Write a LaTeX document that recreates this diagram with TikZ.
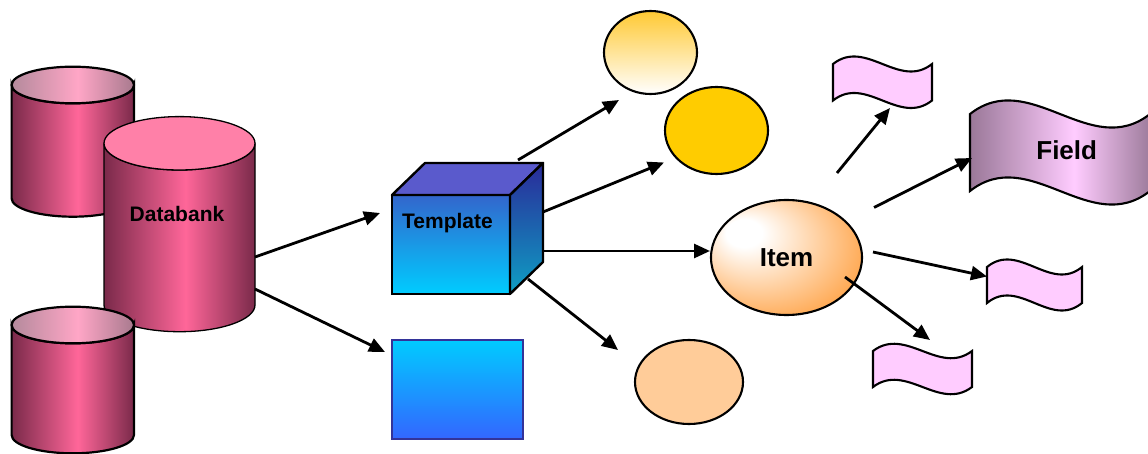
\documentclass[tikz,border=0pt]{standalone}
\usepackage{fontspec}
\setmainfont{Liberation Sans}
\usetikzlibrary{arrows.meta,shapes.geometric,calc}

\definecolor{cylDark}{HTML}{7A2A4A}
\definecolor{cylPink}{HTML}{FF6699}
\definecolor{capEdgeL}{HTML}{B48A9C}
\definecolor{capMid}{HTML}{FFA6C6}
\definecolor{capEdgeR}{HTML}{A87A8E}
\definecolor{bigCap}{HTML}{FF80A8}
\definecolor{cubeFrontTop}{HTML}{3366CC}
\definecolor{cubeFrontBot}{HTML}{00CCFF}
\definecolor{cubeTop}{HTML}{5A5ACC}
\definecolor{cubeSideTop}{HTML}{2A2A99}
\definecolor{cubeSideBot}{HTML}{0E9FC4}
\definecolor{rectTop}{HTML}{00CCFF}
\definecolor{rectBot}{HTML}{3366FF}
\definecolor{rectBorder}{HTML}{333399}
\definecolor{ellGold}{HTML}{FFCC00}
\definecolor{ellGoldLight}{HTML}{FFC933}
\definecolor{ellPeach}{HTML}{FFCC99}
\definecolor{itemOrange}{HTML}{FF9933}
\definecolor{flagPink}{HTML}{FFCCFF}
\definecolor{fieldEdgeL}{HTML}{9A7898}
\definecolor{fieldEdgeR}{HTML}{9E7C9C}

\pgfdeclarehorizontalshading{cylside}{100bp}{color(0bp)=(cylDark); color(25bp)=(cylDark); color(52bp)=(cylPink); color(75bp)=(cylDark); color(100bp)=(cylDark)}
\pgfdeclarehorizontalshading{cylcap}{100bp}{color(0bp)=(capEdgeL); color(25bp)=(capEdgeL); color(52bp)=(capMid); color(75bp)=(capEdgeR); color(100bp)=(capEdgeR)}
\pgfdeclarehorizontalshading{fieldsh}{100bp}{color(0bp)=(fieldEdgeL); color(25bp)=(fieldEdgeL); color(54bp)=(flagPink); color(75bp)=(fieldEdgeR); color(100bp)=(fieldEdgeR)}
\pgfdeclareradialshading{itemsh}{\pgfpoint{-16bp}{12bp}}{color(0bp)=(white); color(6bp)=(white); color(37bp)=(itemOrange); color(50bp)=(itemOrange)}

\newcommand\cylbody[7]{% cx rx ty by ry linewidth capstyle
  \path[draw, line width=#6, shade, shading=cylside]
    ({#1-#2},#3) -- ({#1-#2},#4)
    arc[start angle=180, end angle=0, x radius=#2, y radius=#5]
    -- ({#1+#2},#3)
    arc[start angle=0, end angle=180, x radius=#2, y radius=#5] -- cycle;
  \path[draw, line width=#6, #7] (#1,#3) ellipse [x radius=#2, y radius=#5];
}
\newcommand\wavepath[6]{% style x0 x1 ytop ybot c
  \path[#1] (#2,#4)
    .. controls ({#2+(#3-#2)/3},{#4-#6}) and ({#2+2*(#3-#2)/3},{#4+#6}) .. (#3,#4)
    -- (#3,#5)
    .. controls ({#2+2*(#3-#2)/3},{#5+#6}) and ({#2+(#3-#2)/3},{#5-#6}) .. (#2,#5)
    -- cycle;
}

\tikzset{
  hit/.style={inner sep=0pt, outer sep=0pt, draw=none},
  ell/.style={ellipse, draw, line width=2.1pt, inner sep=0pt, outer sep=0pt},
  arr/.style={line width=2.8pt, -{Triangle[length=16pt,width=14pt]}},
  smallflag/.style={draw, line width=2.1pt, fill=flagPink},
  lbl/.style={font=\fontsize{21}{25}\selectfont\bfseries, inner sep=0pt, anchor=base},
}

\begin{document}
\begin{tikzpicture}[x=1pt, y=-1pt]
\useasboundingbox (0,0) rectangle (1148,454);
\clip (0,0) rectangle (1148,454);

% cylinders
\cylbody{72.8}{61.2}{85}{198.4}{18.3}{2.2pt}{shade, shading=cylcap}
\cylbody{179.5}{75.5}{143.3}{305}{26.7}{1.3pt}{fill=bigCap}
\cylbody{72.8}{61.2}{325}{435}{18.3}{2.2pt}{shade, shading=cylcap}
\node[hit, minimum width=151pt, minimum height=163pt] (db) at (179.5,224.5) {};
\node[lbl] (dbtext) at (177,222) {Databank};

% cube
\node[hit, draw, line width=2.4pt, top color=cubeFrontTop, bottom color=cubeFrontBot,
      minimum width=118pt, minimum height=99pt] (tpl) at (451,244.5) {};
\path[draw, line width=2.4pt, fill=cubeTop, line join=round]
  (tpl.north west) -- ++(33,-32) -- ++(118,0) -- (tpl.north east) -- cycle;
\path[draw, line width=2.4pt, top color=cubeSideTop, bottom color=cubeSideBot, line join=round]
  (tpl.north east) -- ++(33,-32) -- ++(0,99) -- (tpl.south east) -- cycle;
\node[lbl] (tpltext) at (447.5,229) {Template};

% rectangle
\node[hit, draw=rectBorder, line width=2pt, top color=rectTop, bottom color=rectBot,
      minimum width=131pt, minimum height=99pt] (rect) at (457,389) {};

% ellipses
\node[ell, minimum width=93pt, minimum height=83pt, top color=ellGoldLight, bottom color=white] (e1) at (650.5,52.5) {};
\node[ell, minimum width=103pt, minimum height=87pt, fill=ellGold] (e2) at (716.5,130.5) {};
\node[ell, minimum width=151pt, minimum height=115pt, shade, shading=itemsh,
      font=\fontsize{26}{31}\selectfont\bfseries] (item) at (786.5,257.5) {Item};
\node[ell, minimum width=108pt, minimum height=84pt, fill=ellPeach] (e4) at (689,382) {};

% flags
\wavepath{smallflag}{833}{932}{64}{100.5}{26}
\node[hit, minimum width=99pt, minimum height=36.5pt] (f1) at (882.5,82.25) {};
\wavepath{draw, line width=2.1pt, shade, shading=fieldsh}{970}{1150}{114}{191}{47}
\node[hit, minimum width=180pt, minimum height=77pt] (fld) at (1060,152.5) {};
\node[lbl, font=\fontsize{26}{31}\selectfont\bfseries] (fldtext) at (1066.7,160) {Field};
\wavepath{smallflag}{987}{1082}{267}{303}{26}
\node[hit, minimum width=95pt, minimum height=36pt] (f3) at (1034.5,285) {};
\wavepath{smallflag}{873}{972}{351}{387}{25}
\node[hit, minimum width=99pt, minimum height=36pt] (f4) at (922.5,369) {};

% connectors
\draw[arr] ($(db.east)+(0,32.5)$) -- ($(tpl.west)+(-12,-31.5)$);
\draw[arr] ($(db.east)+(0,64.5)$) -- ($(rect.west)+(-6.5,-37)$);
\draw[arr] ($(tpl.north)+(67,-35)$) -- ($(e1.south)+(-31.5,6)$);
\draw[arr] ($(tpl.east)+(33,-32.5)$) -- ($(e2.west)+(-1,32)$);
\draw[arr] ($(tpl.east)+(33,6.5)$) -- ($(item.west)+(-1,-6.5)$);
\draw[arr] ($(tpl.south east)+(18,-15)$) -- ($(e4.west)+(-17,-32)$);
\draw[arr] ($(item.north)+(50.5,-27)$) -- ($(f1.south)+(7.5,7.5)$);
\draw[arr] ($(item.center)+(87.5,-50)$) -- ($(fld.west)+(2,5.5)$);
\draw[arr] ($(item.east)+(11,-5.5)$) -- ($(f3.west)+(0,-8.5)$);
\draw[arr] ($(item.center)+(58.5,19.5)$) -- ($(f4.north)+(7.5,-11)$);
\end{tikzpicture}
\end{document}
